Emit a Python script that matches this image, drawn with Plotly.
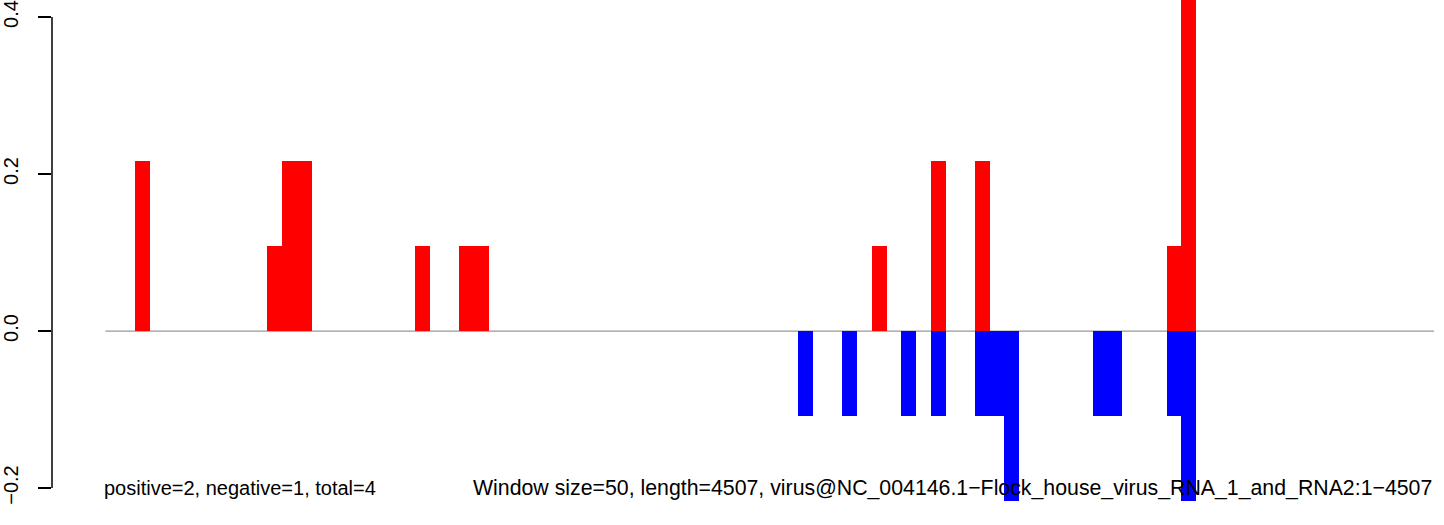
import plotly.graph_objects as go

# window size and sequence length
window = 50
seq_length = 4507

# positive strand windows (start position, bp) and values
pos_start = [100, 550, 600, 650, 1050, 1200, 1250, 2600, 2800, 2950, 3600, 3650]
pos_value = [0.2166, 0.1083, 0.2166, 0.2166, 0.1083, 0.1083, 0.1083, 0.1083, 0.2166, 0.2166, 0.1083, 0.4332]

# negative strand windows
neg_start = [2350, 2500, 2700, 2800, 2950, 3000, 3050, 3350, 3400, 3600, 3650]
neg_value = [-0.1083, -0.1083, -0.1083, -0.1083, -0.1083, -0.1083, -0.2166, -0.1083, -0.1083, -0.1083, -0.2166]

y_ticks = [-0.2, 0.0, 0.2, 0.4]
y_ticktext = ["\u22120.2", "0.0", "0.2", "0.4"]

left_text = "positive=2, negative=1, total=4"
right_text = ("Window size=50, length=4507, "
              "virus@NC_004146.1\u2212Flock_house_virus_RNA_1_and_RNA2:1\u22124507")

font = "Liberation Sans, Arial, Helvetica, sans-serif"

fig = go.Figure()
fig.add_trace(go.Bar(x=[s + window / 2 for s in pos_start], y=pos_value, width=window,
                     marker=dict(color="#FF0000", line=dict(width=0)), hoverinfo="skip"))
fig.add_trace(go.Bar(x=[s + window / 2 for s in neg_start], y=neg_value, width=window,
                     marker=dict(color="#0000FF", line=dict(width=0)), hoverinfo="skip"))

# baseline at zero across the sequence
fig.add_shape(type="line", xref="x", yref="y", x0=0, x1=seq_length, y0=0, y1=0,
              line=dict(color="#999999", width=1.2), layer="below")
# y axis line only over the tick range
fig.add_shape(type="line", xref="paper", yref="y", x0=0, x1=0, y0=y_ticks[0], y1=y_ticks[-1],
              line=dict(color="black", width=1.5))

fig.add_annotation(x=-12, y=-0.2, text=left_text, showarrow=False, xanchor="left", yanchor="middle",
                   font=dict(family=font, size=20, color="black"))
fig.add_annotation(x=seq_length, y=-0.2, text=right_text, showarrow=False, xanchor="right",
                   yanchor="middle", font=dict(family=font, size=21.3, color="black"))

fig.update_layout(
    width=1444, height=525,
    margin=dict(l=50, r=0, t=0, b=0),
    plot_bgcolor="white", paper_bgcolor="white",
    barmode="overlay", bargap=0, showlegend=False,
    font=dict(family=font, size=20, color="black"),
)
fig.update_xaxes(range=[-181, 4541], visible=False, showgrid=False, zeroline=False)
fig.update_yaxes(range=[-0.2471, 0.4217], tickvals=y_ticks, ticktext=y_ticktext, tickangle=-90,
                 ticks="outside", ticklen=13, tickwidth=1.5, tickcolor="black",
                 showline=False, showgrid=False, zeroline=False, ticklabelstandoff=12,
                 tickfont=dict(family=font, size=20, color="black"))

fig.write_html("out.html", config={"displayModeBar": False},
               post_script="document.body.style.margin='0';")
